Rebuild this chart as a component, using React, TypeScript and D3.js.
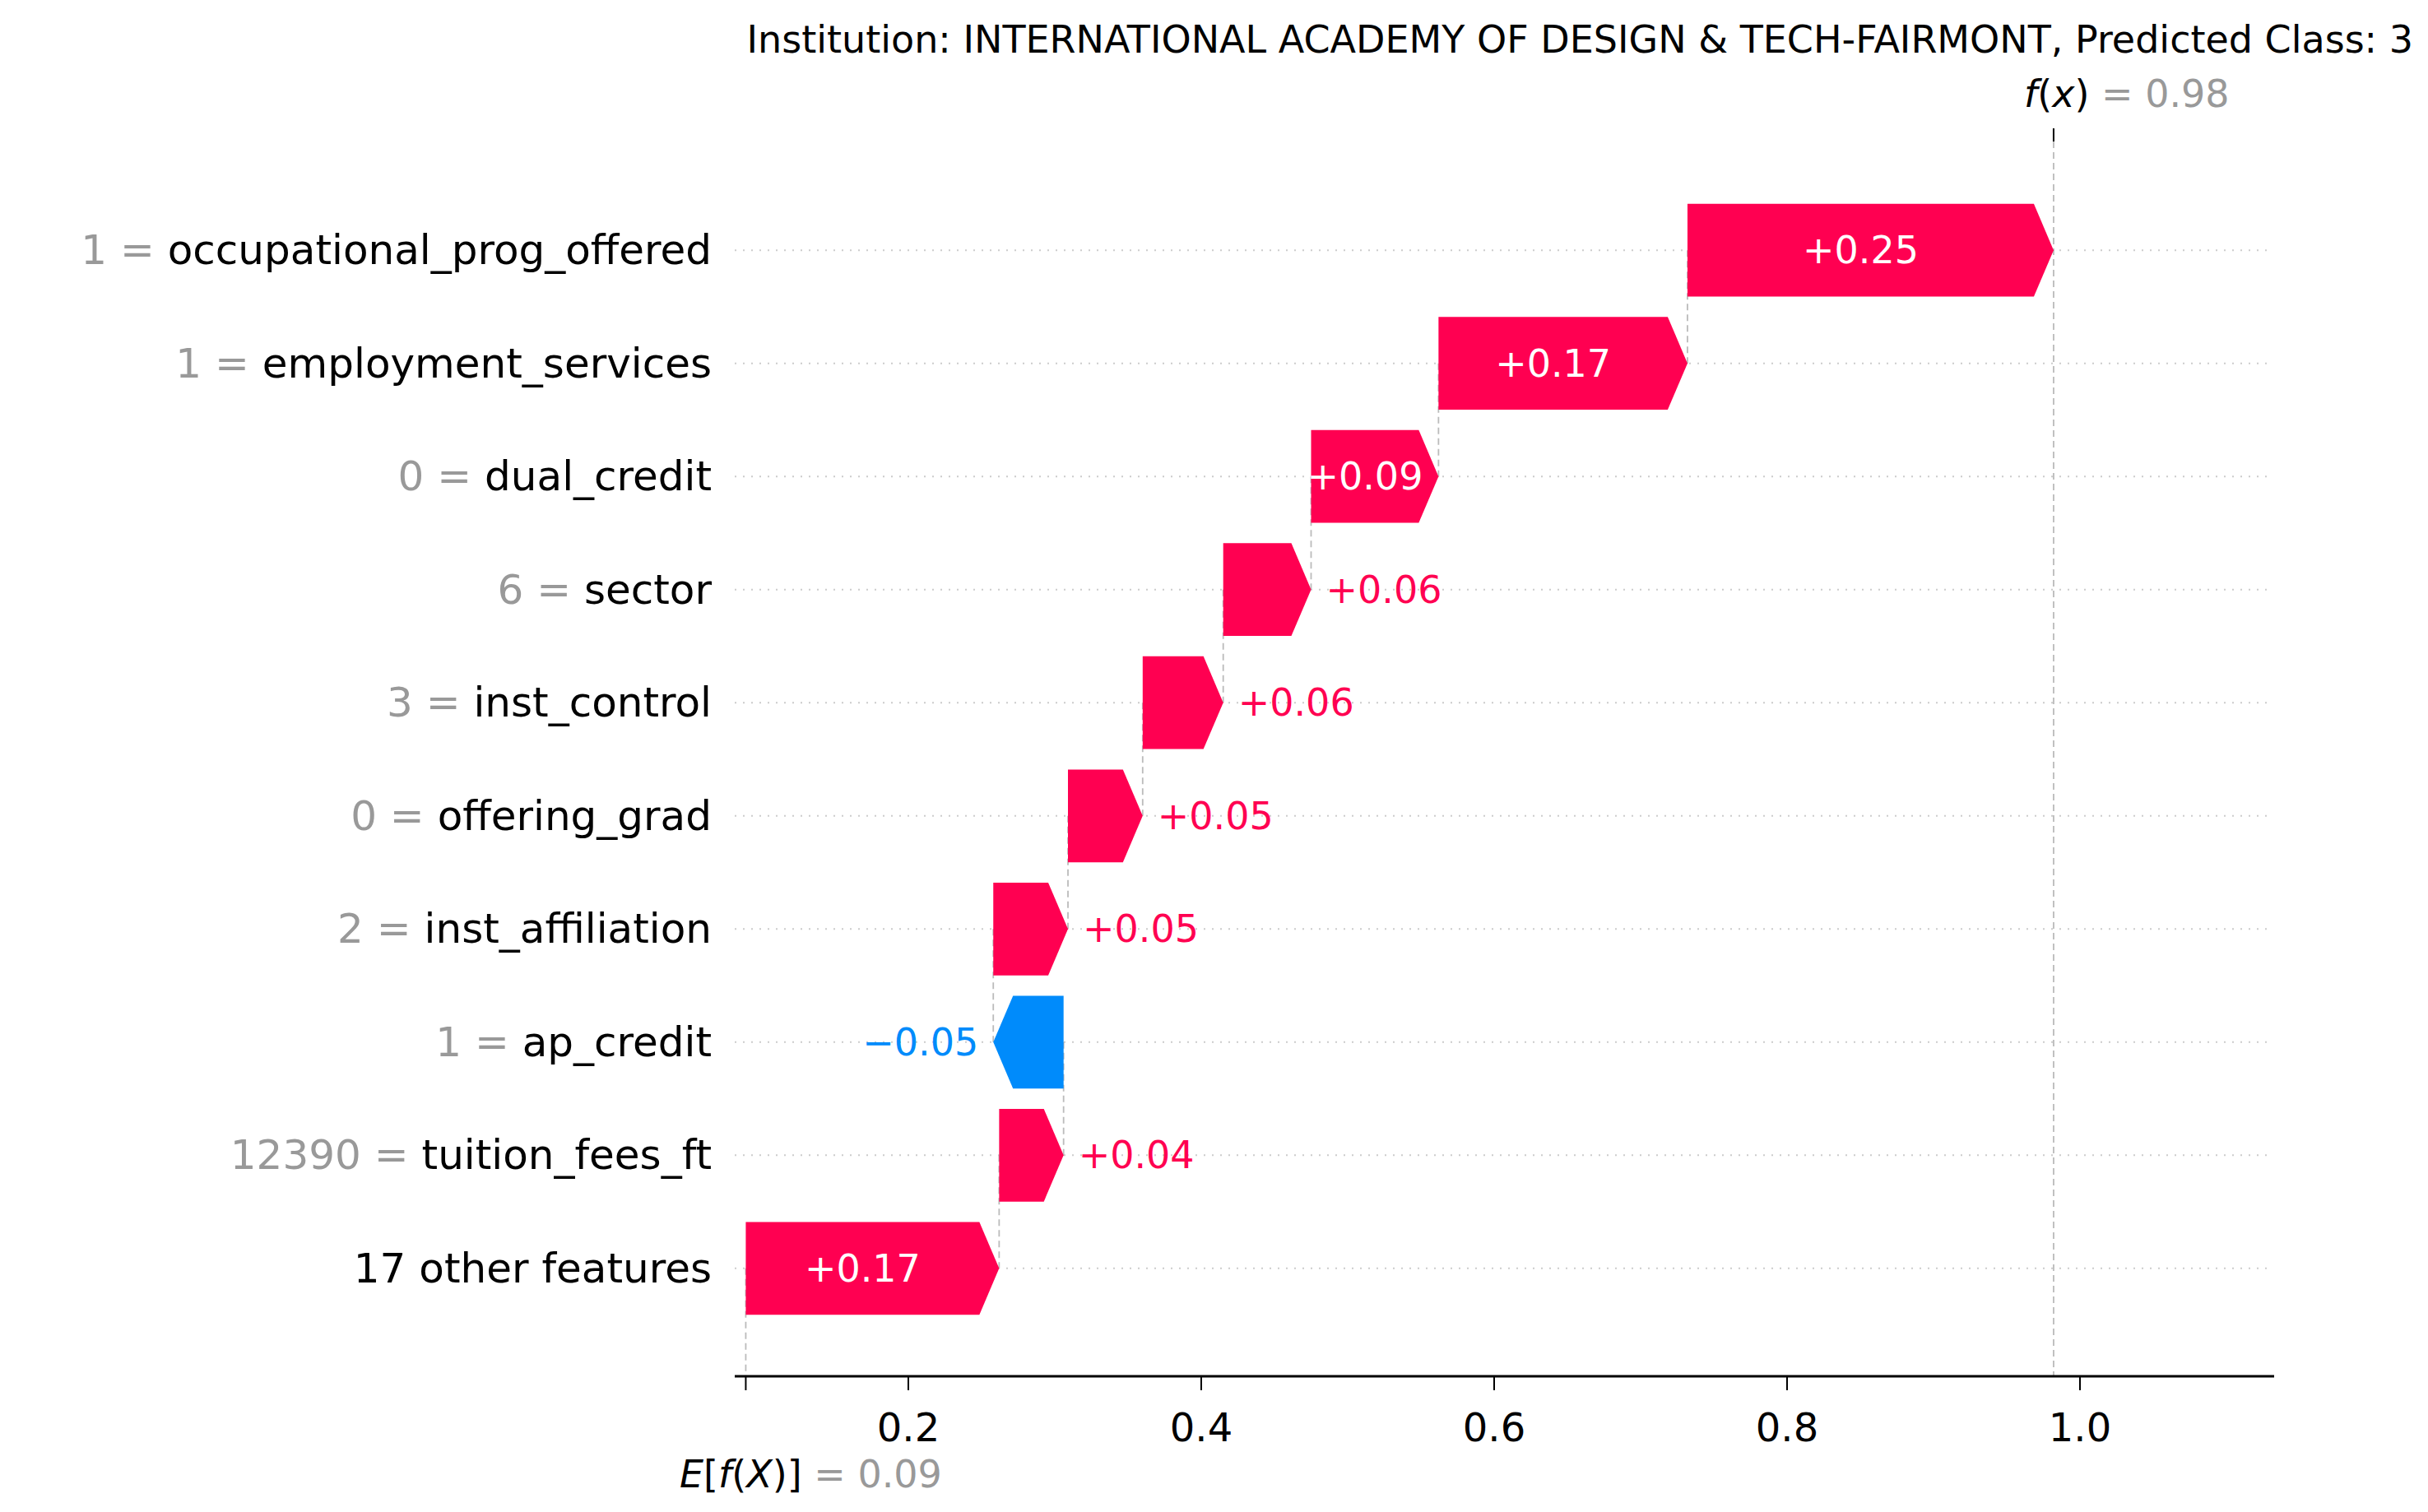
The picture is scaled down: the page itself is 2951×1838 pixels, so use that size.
import React, { useEffect } from 'react';
import * as d3 from 'd3';

const features = ['occupational_prog_offered', 'employment_services', 'dual_credit', 'sector', 'inst_control', 'offering_grad', 'inst_affiliation', 'ap_credit', 'tuition_fees_ft', '17 other features'];
const featureValues = ['1', '1', '0', '6', '3', '0', '2', '1', '12390', ''];
const shapValues = [0.25, 0.17, 0.087, 0.06, 0.055, 0.051, 0.051, -0.048, 0.044, 0.173];
const labels = ['+0.25', '+0.17', '+0.09', '+0.06', '+0.06', '+0.05', '+0.05', '\u22120.05', '+0.04', '+0.17'];
const baseValue = 0.089;
const ticks = [0.2, 0.4, 0.6, 0.8, 1.0];

const W = 2951, H = 1838;
const PINK = '#ff0051', BLUE = '#008bfb';
const FONT = 'DejaVu Sans';

export default function App() {
  useEffect(() => { document.body.style.margin = '0'; }, []);
  const x = d3.scaleLinear().domain([0, 1]).range([748, 2528]);
  const y = d3.scaleBand<number>().domain(d3.range(features.length)).range([223, 1623]).padding(0.18);
  const rowY = (i: number) => y(i)! + y.bandwidth() / 2;
  const bh = y.bandwidth();
  const axisY = 1673;

  // cumulative start from the bottom row upward
  const starts: number[] = [];
  let acc = baseValue;
  for (let i = features.length - 1; i >= 0; i--) { starts[i] = acc; acc += shapValues[i]; }
  const fx = acc;
  const head = 24;

  return (
    <svg width={W} height={H} style={{ display: 'block', fontFamily: FONT }}>
      <text x={2933} y={64} textAnchor="end" fontSize={46}>Institution: INTERNATIONAL ACADEMY OF DESIGN &amp; TECH-FAIRMONT, Predicted Class: 3</text>
      {features.map((_, i) => (
        <line key={'g' + i} x1={893} x2={2762} y1={rowY(i)} y2={rowY(i)} stroke="#ccc" strokeWidth={2} strokeDasharray="2,8" />
      ))}
      {/* connectors */}
      {features.map((_, i) => i < features.length - 1 ? (
        <line key={'c' + i} x1={x(starts[i])} x2={x(starts[i])} y1={rowY(i)} y2={rowY(i + 1)} stroke="#bbb" strokeWidth={1.8} strokeDasharray="8,5" />
      ) : null)}
      <line x1={x(baseValue)} x2={x(baseValue)} y1={rowY(features.length - 1)} y2={axisY} stroke="#bbb" strokeWidth={1.8} strokeDasharray="8,5" />
      <line x1={x(fx)} x2={x(fx)} y1={172} y2={axisY} stroke="#bbb" strokeWidth={1.8} strokeDasharray="8,5" />
      <line x1={x(fx)} x2={x(fx)} y1={156} y2={172} stroke="#000" strokeWidth={2} />
      {shapValues.map((v, i) => {
        const x0 = x(starts[i]), x1 = x(starts[i] + v);
        const cy = rowY(i), top = y(i)!, bot = top + bh;
        const w = Math.abs(x1 - x0);
        const hl = Math.min(head, w);
        const dir = v >= 0 ? 1 : -1;
        const xb = x1 - dir * hl;
        const pts = [[x0, top], [xb, top], [x1, cy], [xb, bot], [x0, bot]];
        const color = v >= 0 ? PINK : BLUE;
        const inside = w > 150;
        const tx = inside ? (x0 + xb) / 2 : x1 + dir * 18;
        return (
          <g key={'b' + i}>
            <polygon points={pts.map(p => p.join(',')).join(' ')} fill={color} />
            <text x={tx} y={cy + 16} fontSize={46} fill={inside ? '#fff' : color} textAnchor={inside ? 'middle' : (dir > 0 ? 'start' : 'end')}>{labels[i]}</text>
          </g>
        );
      })}
      {features.map((f, i) => (
        <text key={'l' + i} x={865} y={rowY(i) + 17} textAnchor="end" fontSize={50}>
          {featureValues[i] !== '' && <tspan fill="#999">{featureValues[i]} = </tspan>}
          <tspan fill="#000">{f}</tspan>
        </text>
      ))}
      <line x1={893} x2={2764} y1={axisY} y2={axisY} stroke="#000" strokeWidth={3} />
      {[baseValue, ...ticks].map((t, i) => (
        <line key={'t' + i} x1={x(t)} x2={x(t)} y1={axisY} y2={axisY + 17} stroke="#000" strokeWidth={2} />
      ))}
      {ticks.map(t => (
        <text key={'tl' + t} x={x(t)} y={1752} textAnchor="middle" fontSize={48}>{d3.format('.1f')(t)}</text>
      ))}
      <text x={826} y={1808} fontSize={46}>
        <tspan fontStyle="italic">E</tspan><tspan>[</tspan><tspan fontStyle="italic">f</tspan><tspan>(</tspan><tspan fontStyle="italic">X</tspan><tspan>)]</tspan>
        <tspan fill="#999"> = {baseValue.toFixed(2)}</tspan>
      </text>
      <text x={2460} y={130} fontSize={46}>
        <tspan fontStyle="italic">f</tspan><tspan>(</tspan><tspan fontStyle="italic">x</tspan><tspan>)</tspan>
        <tspan fill="#999"> = {fx.toFixed(2)}</tspan>
      </text>
    </svg>
  );
}
